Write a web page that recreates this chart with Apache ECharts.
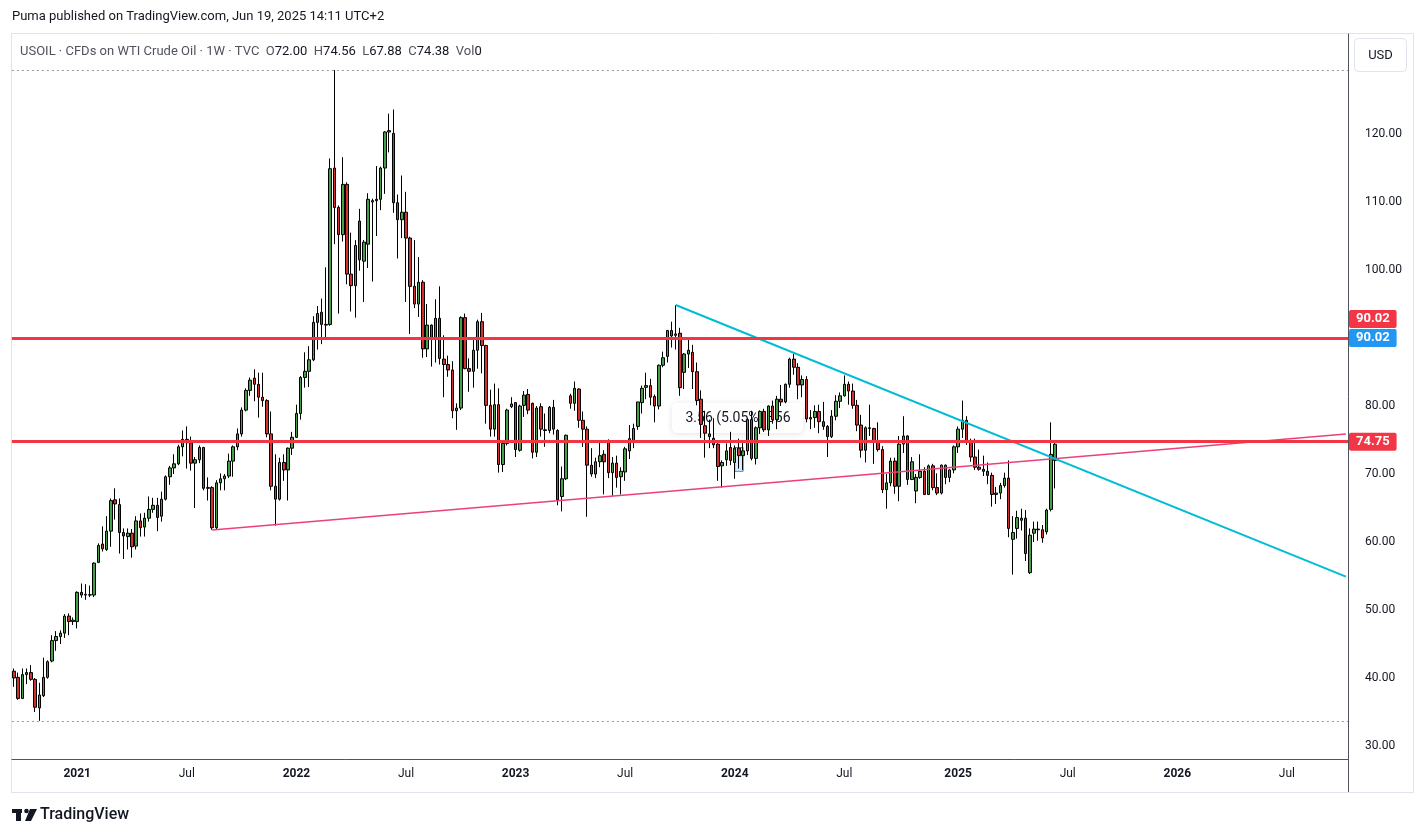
<!DOCTYPE html>
<html>
<head>
<meta charset="utf-8">
<title>USOIL 1W</title>
<script src="https://cdn.jsdelivr.net/npm/echarts@6/dist/echarts.min.js"></script>
<style>
  html, body { margin: 0; padding: 0; background: #fff; }
  #chart { width: 1426px; height: 837px; }
</style>
</head>
<body>
<div id="chart"></div>
<script>
// Weekly candles: [open, close, low, high]
const candles2020 = [
  [41.0, 40.0, 38.7, 41.4], [40.1, 37.0, 36.8, 40.8], [37.0, 40.5, 36.9, 41.4], [40.5, 40.8, 39.1, 41.4],
  [40.8, 39.8, 39.6, 41.9], [39.8, 35.7, 35.0, 40.0], [35.6, 37.5, 33.7, 39.3], [37.4, 40.1, 37.2, 43.0],
  [40.1, 42.4, 39.9, 42.6], [42.5, 45.5, 42.3, 46.3], [45.5, 46.1, 44.0, 46.9], [46.1, 46.6, 45.0, 47.0],
  [46.6, 49.1, 45.9, 49.4], [49.1, 48.3, 46.3, 49.5], [48.3, 48.5, 47.8, 48.9]
];
const candles2021 = [
  [48.3, 52.6, 47.3, 52.75], [52.6, 52.2, 51.8, 53.9], [52.2, 52.3, 51.5, 53.8], [52.25, 52.2, 51.9, 53.6],
  [52.2, 56.9, 51.9, 57.0], [57.0, 59.5, 56.9, 59.8], [59.7, 59.0, 58.6, 62.3], [58.9, 61.6, 58.7, 63.8],
  [61.6, 66.1, 59.3, 66.4], [66.2, 65.6, 63.3, 67.9], [65.5, 61.4, 58.3, 66.4], [61.4, 60.9, 57.5, 62.0],
  [60.8, 61.3, 58.9, 62.0], [61.3, 59.3, 57.7, 61.9], [59.4, 63.1, 58.9, 63.8], [63.1, 62.1, 60.8, 64.2],
  [62.2, 63.5, 60.8, 64.3], [63.5, 64.8, 63.0, 66.7], [64.8, 65.4, 64.3, 66.5], [65.4, 63.6, 61.6, 66.5],
  [63.8, 66.3, 63.0, 67.4], [66.3, 69.6, 66.1, 69.8], [69.6, 70.9, 68.4, 71.2], [70.9, 71.5, 70.0, 72.9],
  [71.5, 74.0, 71.3, 74.3], [74.0, 75.1, 72.6, 76.4], [75.1, 74.6, 70.8, 77.0], [74.6, 71.6, 70.5, 75.5],
  [71.6, 72.1, 65.0, 72.5], [72.1, 73.9, 71.6, 74.2], [73.9, 67.9, 67.6, 74.0], [67.9, 68.0, 66.1, 69.5],
  [68.0, 62.1, 61.8, 68.2], [62.1, 68.7, 61.8, 69.1], [68.7, 69.3, 67.6, 70.1], [69.3, 69.7, 67.6, 70.0],
  [69.7, 71.9, 69.4, 73.0], [71.9, 74.0, 69.6, 74.2], [74.0, 75.9, 73.5, 76.7], [75.9, 79.4, 75.5, 79.8],
  [79.4, 82.3, 79.2, 82.6], [82.3, 83.8, 81.5, 84.2], [84.1, 83.2, 80.7, 85.4], [83.2, 81.3, 78.3, 84.9],
  [81.3, 80.8, 79.9, 84.9], [80.8, 75.9, 75.4, 81.0], [75.9, 68.2, 67.6, 79.2], [68.2, 66.3, 62.4, 72.9],
  [66.3, 71.7, 66.1, 72.4], [71.7, 70.6, 69.0, 72.9], [70.6, 73.8, 66.1, 73.9], [73.8, 75.4, 72.8, 76.2]
];
const candles2022 = [
  [75.4, 78.9, 75.3, 80.2], [78.9, 84.2, 78.0, 84.4], [84.2, 85.1, 82.7, 87.9], [85.1, 86.8, 82.8, 88.8],
  [86.8, 92.3, 86.6, 93.2], [92.3, 93.6, 88.3, 94.7], [93.8, 92.0, 89.1, 95.8], [91.9, 92.0, 90.1, 100.4],
  [92.0, 114.9, 91.8, 116.4], [115.0, 109.2, 103.8, 129.4], [109.2, 105.2, 93.6, 109.5], [105.2, 112.6, 104.2, 116.6],
  [112.6, 99.4, 97.9, 112.9], [99.4, 97.7, 93.9, 105.5], [97.7, 103.6, 93.0, 104.4], [107.2, 101.5, 99.9, 109.0],
  [101.3, 104.1, 95.3, 104.4], [103.8, 110.4, 100.3, 111.3], [110.0, 110.2, 98.3, 110.5], [110.2, 110.4, 105.0, 115.3],
  [110.4, 115.0, 108.8, 115.2], [115.0, 120.3, 111.2, 120.4], [120.3, 120.5, 117.3, 123.0], [120.1, 109.9, 108.4, 123.6],
  [109.9, 107.4, 101.7, 111.1], [107.4, 108.5, 104.7, 113.9], [108.5, 104.7, 95.3, 111.5], [104.7, 97.6, 90.6, 104.9],
  [97.6, 95.0, 94.4, 104.4], [95.0, 98.2, 93.1, 101.9], [98.2, 88.4, 87.1, 98.5], [88.4, 91.9, 87.2, 95.0],
  [91.9, 89.8, 85.8, 92.0], [89.8, 92.9, 86.4, 95.7], [92.9, 87.0, 86.1, 97.6], [86.9, 86.1, 81.3, 90.4],
  [86.1, 85.3, 84.3, 87.4], [85.3, 79.3, 78.2, 86.6], [79.3, 79.7, 76.5, 80.4], [79.7, 93.0, 79.4, 93.2],
  [93.0, 85.5, 85.4, 93.6], [85.5, 85.1, 82.1, 87.0], [85.1, 88.2, 82.7, 89.7], [88.2, 92.4, 85.5, 92.7],
  [92.4, 88.9, 84.8, 93.7], [88.9, 80.1, 77.4, 89.0], [80.1, 76.6, 75.5, 82.4], [76.6, 80.2, 75.5, 83.3],
  [80.2, 71.4, 70.2, 82.6], [71.4, 74.5, 70.3, 74.8], [74.5, 79.4, 74.2, 79.6], [79.9, 80.3, 79.7, 81.3]
];
const candles2023 = [
  [80.5, 73.6, 72.5, 80.6], [73.5, 80.0, 73.3, 80.2], [80.1, 81.6, 78.4, 82.2], [81.7, 79.4, 78.8, 82.5],
  [80.4, 73.2, 72.3, 80.5], [73.2, 79.7, 72.5, 80.0], [79.9, 76.6, 75.5, 80.4], [76.5, 76.4, 74.0, 78.9],
  [76.4, 79.8, 76.0, 80.0], [79.8, 76.6, 75.8, 80.9], [76.4, 66.2, 65.4, 76.6], [66.7, 69.3, 64.5, 71.1],
  [69.3, 75.7, 69.1, 75.8], [81.5, 80.4, 79.6, 81.8], [80.4, 82.6, 79.3, 83.6], [82.5, 77.9, 76.8, 82.6],
  [77.9, 76.6, 74.0, 79.2], [76.6, 71.3, 63.7, 77.0], [71.3, 70.0, 69.6, 73.8], [70.0, 71.8, 69.4, 72.4],
  [71.8, 72.7, 71.0, 74.7], [72.9, 71.8, 67.0, 73.5], [74.9, 70.2, 69.4, 75.1], [70.2, 71.6, 66.8, 72.5],
  [71.6, 69.5, 68.0, 72.7], [69.6, 70.4, 67.0, 71.0], [70.3, 73.7, 69.0, 74.0], [73.4, 75.2, 72.2, 77.2],
  [74.9, 76.7, 73.8, 77.4], [77.0, 80.6, 76.5, 80.6], [80.5, 82.6, 78.9, 83.0], [82.75, 83.0, 81.0, 84.9],
  [83.0, 81.3, 80.1, 84.0], [81.4, 80.0, 77.6, 81.7], [80.0, 86.0, 79.5, 86.1], [86.0, 87.1, 85.7, 88.0],
  [87.3, 91.1, 86.4, 91.2], [91.1, 90.3, 88.6, 92.4], [90.4, 90.6, 88.3, 94.85], [90.7, 82.7, 81.5, 91.5],
  [84.95, 87.65, 82.5, 87.8], [87.65, 88.2, 85.6, 90.0], [87.9, 85.05, 82.5, 89.0], [85.05, 80.8, 80.1, 86.4],
  [81.0, 77.3, 75.3, 82.3], [77.1, 76.0, 72.4, 79.3], [75.9, 75.5, 73.8, 78.0], [75.25, 74.3, 73.8, 78.2],
  [74.4, 71.1, 69.0, 74.8], [71.2, 71.7, 68.0, 72.0], [72.1, 73.4, 71.2, 74.5], [73.9, 72.0, 71.3, 76.2]
];
const candles2024 = [
  [71.7, 73.8, 69.3, 74.2], [73.8, 72.7, 70.8, 75.2], [72.7, 73.4, 70.6, 74.6], [73.4, 78.0, 72.8, 78.2],
  [78.0, 72.3, 72.0, 79.3], [72.3, 76.8, 71.4, 77.0], [76.8, 79.2, 75.9, 79.3], [79.2, 76.5, 76.2, 79.6],
  [76.5, 80.0, 75.6, 80.1], [80.0, 78.0, 77.4, 80.8], [78.0, 81.0, 76.6, 81.5], [81.0, 80.6, 80.0, 83.1],
  [80.6, 83.2, 80.4, 83.3], [83.2, 86.9, 82.7, 87.1], [86.9, 85.7, 84.6, 87.7], [85.7, 83.1, 81.0, 86.3],
  [83.1, 83.9, 81.3, 84.5], [83.9, 78.1, 77.6, 84.4], [78.1, 78.3, 76.6, 79.4], [78.3, 79.2, 76.8, 80.1],
  [79.2, 77.7, 76.0, 80.2], [77.7, 77.0, 76.5, 80.6], [77.0, 75.5, 72.5, 77.2], [75.5, 78.5, 75.3, 79.4],
  [78.5, 80.7, 77.9, 81.6], [80.7, 81.5, 79.7, 82.0], [81.5, 83.2, 81.4, 84.5], [83.2, 82.2, 80.2, 83.6],
  [82.2, 80.1, 79.6, 83.3], [80.1, 77.2, 76.3, 80.9], [77.2, 73.5, 72.4, 78.7], [73.5, 76.8, 71.7, 77.0],
  [76.8, 76.7, 75.6, 80.2], [76.7, 74.8, 71.5, 76.8], [74.8, 73.6, 73.3, 77.6], [73.6, 67.7, 67.2, 74.1],
  [67.7, 68.7, 64.9, 70.0], [68.7, 71.9, 68.2, 72.4], [71.9, 68.2, 67.1, 72.4], [68.2, 74.4, 66.0, 75.6],
  [74.4, 75.6, 73.1, 78.5], [75.6, 69.2, 68.4, 75.7], [69.2, 71.8, 69.1, 72.5], [67.5, 69.5, 65.7, 70.0],
  [69.5, 70.4, 69.3, 72.9], [70.4, 67.0, 66.9, 71.0], [67.0, 71.2, 66.9, 71.4], [71.2, 68.0, 67.6, 71.5],
  [68.0, 67.2, 66.9, 70.1], [67.2, 71.3, 67.0, 71.4], [71.3, 69.5, 68.5, 71.4], [69.5, 70.6, 68.8, 70.7],
  [70.6, 74.0, 70.1, 74.2]
];
const candles2025 = [
  [74.0, 76.6, 73.1, 77.0], [76.6, 77.9, 75.3, 80.8], [77.9, 74.7, 74.3, 78.5], [74.7, 72.5, 71.8, 75.2],
  [72.5, 71.0, 70.6, 75.2], [71.0, 70.7, 70.5, 73.6], [70.7, 70.4, 69.7, 72.7], [70.4, 69.8, 68.5, 71.7],
  [69.8, 67.0, 65.2, 70.2], [67.0, 67.2, 65.6, 68.1], [67.2, 68.3, 66.3, 68.7], [68.3, 69.4, 68.0, 70.2],
  [69.4, 62.0, 60.7, 72.0], [60.4, 61.4, 55.2, 63.8], [62.0, 63.6, 60.5, 64.6], [63.2, 63.5, 61.7, 64.9],
  [63.5, 58.3, 57.2, 64.7], [55.5, 61.0, 55.3, 62.0], [61.3, 61.9, 60.0, 63.0], [61.9, 61.8, 60.2, 63.0],
  [61.8, 60.6, 59.9, 62.5], [61.5, 64.7, 61.1, 64.9], [64.8, 72.9, 64.5, 77.6], [72.0, 74.38, 67.88, 74.56]
];

const firstWeek = '2020-09-21';   // Monday of the first (partly hidden) bar
const weekCount = 317;             // bars that fit the time scale, incl. empty future weeks
const priceTicks = [30, 40, 50, 60, 70, 80, 90, 100, 110, 120];
const redLevels = [90.02, 74.75];
const blueLevel = 90.02;
const cyanTrend = [[157, 94.85], [316, 54.92]];   // [bar index, price]
const pinkTrend = [[47, 61.76], [316, 75.87]];
const rulerBox = [[171, 70.4], [173, 73.9]];
const legendKeys = ['O', 'H', 'L', 'C', 'Vol'];
const legendVals = ['72.00', '74.56', '67.88', '74.38', '0'];

const FONT = "Roboto, 'Noto Sans', sans-serif";
const TEXT = '#131722';

const candles = [].concat(candles2020, candles2021, candles2022, candles2023, candles2024, candles2025);
const highMark = Math.max(...candles.map(c => c[3]));
const lowMark = Math.min(...candles.map(c => c[2]));

const weeks = [];
const t0 = Date.parse(firstWeek + 'T00:00:00Z');
for (let i = 0; i < weekCount; i++) weeks.push(new Date(t0 + i * 7 * 86400000).toISOString().slice(0, 10));

const isMarkWeek = (v) => {
  const d = new Date(v + 'T00:00:00Z');
  return d.getUTCDate() <= 7 && (d.getUTCMonth() === 0 || d.getUTCMonth() === 6);
};

const levelLabel = (bg, offsetY) => ({
  show: true, position: 'end', distance: 1, offset: [0, offsetY],
  formatter: p => p.value.toFixed(2),
  backgroundColor: bg, color: '#fff', fontWeight: 'bold', fontSize: 13, fontFamily: FONT,
  padding: [3, 7, 2, 7], borderRadius: 2
});

let legendRich = '{k|USOIL · CFDs on WTI Crude Oil · 1W · TVC}';
legendKeys.forEach((k, i) => { legendRich += '  {k|' + k + '}{v|' + legendVals[i] + '}'; });

const chart = echarts.init(document.getElementById('chart'));
chart.setOption({
  animation: false,
  backgroundColor: '#fff',
  grid: { left: 11.9, right: 78, top: 34, bottom: 78, containLabel: false },
  xAxis: {
    type: 'category', data: weeks, boundaryGap: true,
    axisLine: { show: true, lineStyle: { color: '#50535e', width: 1 } },
    axisTick: { show: false },
    splitLine: { show: false },
    axisLabel: {
      interval: (idx, v) => isMarkWeek(v),
      formatter: v => {
        const d = new Date(v + 'T00:00:00Z');
        return d.getUTCMonth() === 0 ? '{y|' + d.getUTCFullYear() + '}' : 'Jul';
      },
      color: TEXT, fontSize: 12, fontFamily: FONT, margin: 9,
      rich: { y: { fontWeight: 'bold', fontSize: 12, fontFamily: FONT, color: TEXT } }
    }
  },
  yAxis: {
    type: 'value', position: 'right', min: 28.09, max: 134.71,
    splitLine: { show: false },
    axisLine: { show: true, lineStyle: { color: '#50535e', width: 1 } },
    axisTick: { show: false },
    axisLabel: {
      customValues: priceTicks, formatter: v => v.toFixed(2),
      color: TEXT, fontSize: 12, fontFamily: FONT, margin: 17
    }
  },
  series: [
    {
      type: 'candlestick', data: candles, barWidth: 3, z: 3,
      itemStyle: {
        color: '#43a047', color0: '#d32f2f',
        borderColor: '#000', borderColor0: '#000', borderColorDoji: '#000', borderWidth: 1
      },
      markArea: {
        silent: true,
        itemStyle: { color: 'rgba(33,150,243,0.18)', borderColor: '#2196f3', borderWidth: 1 },
        data: [[{ xAxis: rulerBox[0][0], yAxis: rulerBox[0][1] }, { xAxis: rulerBox[1][0], yAxis: rulerBox[1][1] }]]
      },
      markLine: {
        silent: true, symbol: 'none', animation: false,
        data: [
          { yAxis: highMark, lineStyle: { color: '#9598a1', type: [2, 3], width: 1 }, label: { show: false } },
          { yAxis: lowMark, lineStyle: { color: '#9598a1', type: [2, 3], width: 1 }, label: { show: false } },
          { yAxis: blueLevel, lineStyle: { color: 'rgba(0,0,0,0)', width: 1 }, label: levelLabel('#2196f3', 0) },
          { yAxis: redLevels[0], lineStyle: { color: '#f23645', type: 'solid', width: 3 }, label: levelLabel('#f23645', -19) },
          { yAxis: redLevels[1], lineStyle: { color: '#f23645', type: 'solid', width: 3 }, label: levelLabel('#f23645', 0) }
        ]
      }
    },
    {
      type: 'line', data: pinkTrend, symbol: 'none', silent: true, z: 4,
      lineStyle: { color: '#ec407a', width: 1.5 }
    },
    {
      type: 'line', data: cyanTrend, symbol: 'none', silent: true, z: 4,
      lineStyle: { color: '#00bcd4', width: 2 }
    }
  ],
  graphic: [
    { type: 'rect', z: 0, silent: true, shape: { x: 11.5, y: 33.5, width: 1402, height: 759 },
      style: { fill: 'none', stroke: '#e0e3eb', lineWidth: 1 } },
    { type: 'line', z: 0, silent: true, shape: { x1: 1348.5, y1: 759, x2: 1348.5, y2: 792 },
      style: { stroke: '#50535e', lineWidth: 1 } },
    { type: 'text', left: 12, top: 10, silent: true,
      style: { text: 'Puma published on TradingView.com, Jun 19, 2025 14:11 UTC+2', font: '13px ' + FONT, fill: TEXT } },
    { type: 'text', left: 20, top: 45, silent: true,
      style: { text: legendRich, font: '13px ' + FONT,
        rich: { k: { fill: '#50535e', font: '13px ' + FONT }, v: { fill: TEXT, font: '13px ' + FONT } } } },
    { type: 'group', left: 1354, top: 38, silent: true, children: [
      { type: 'rect', shape: { x: 0, y: 0, width: 52, height: 33, r: 4 }, style: { fill: '#fff', stroke: '#e0e3eb' } },
      { type: 'text', style: { x: 26, y: 17, text: 'USD', font: '13px ' + FONT, fill: TEXT, align: 'center', verticalAlign: 'middle' } }
    ] },
    { type: 'group', left: 672, top: 403, z: 1, silent: true, children: [
      { type: 'rect', shape: { x: 0, y: 0, width: 131, height: 30, r: 5 },
        style: { fill: 'rgba(255,255,255,0.95)', shadowBlur: 6, shadowColor: 'rgba(0,0,0,0.12)', shadowOffsetY: 1 } },
      { type: 'text', style: { x: 66, y: 15, text: '3.56 (5.05%) 356', font: '14px ' + FONT, fill: TEXT, align: 'center', verticalAlign: 'middle' } }
    ] },
    { type: 'group', left: 12, top: 807, silent: true, children: [
      { type: 'rect', shape: { x: 0, y: 2, width: 10, height: 4 }, style: { fill: TEXT } },
      { type: 'rect', shape: { x: 4, y: 2, width: 5, height: 12 }, style: { fill: TEXT } },
      { type: 'circle', shape: { cx: 14.5, cy: 4, r: 2.3 }, style: { fill: TEXT } },
      { type: 'polygon', shape: { points: [[18, 2], [25, 2], [19, 14], [13, 14]] }, style: { fill: TEXT } },
      { type: 'text', style: { x: 28, y: 8, text: 'TradingView', font: '500 16px ' + FONT, fill: TEXT, verticalAlign: 'middle' } }
    ] }
  ]
});
</script>
</body>
</html>
